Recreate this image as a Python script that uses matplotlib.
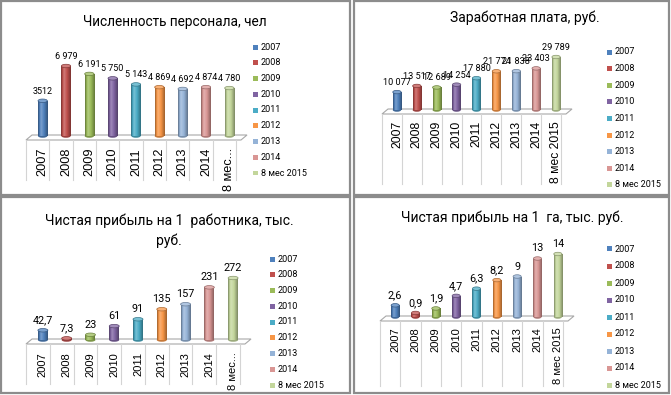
import matplotlib
matplotlib.use("Agg")
import matplotlib.pyplot as plt
import numpy as np
from matplotlib.colors import to_rgb
from matplotlib.patches import Rectangle, Ellipse, Polygon

plt.rcParams['font.family'] = ['Roboto', 'DejaVu Sans']

W, H = 671, 395

years = ['2007', '2008', '2009', '2010', '2011', '2012', '2013', '2014', '8 мес 2015']
colors = ['#4F81BD', '#C0504D', '#9BBB59', '#8064A2', '#4BACC6',
          '#F79646', '#95B3D7', '#D99694', '#C3D69B']

staff = [3512, 6979, 6191, 5750, 5143, 4869, 4692, 4874, 4780]
staff_labels = ['3512', '6 979', '6 191', '5 750', '5 143', '4 869', '4 692', '4 874', '4 780']
short_ticks = ['2007', '2008', '2009', '2010', '2011', '2012', '2013', '2014', '8 мес...']

salary = [10077, 13517, 12689, 14254, 17880, 21774, 21838, 23403, 29789]
salary_labels = ['10 077', '13 517', '12 689', '14 254', '17 880', '21 774', '21 838', '23 403', '29 789']

profit_worker = [42.7, 7.3, 23, 61, 91, 135, 157, 231, 272]
profit_worker_labels = ['42,7', '7,3', '23', '61', '91', '135', '157', '231', '272']

profit_ha = [2.6, 0.9, 1.9, 4.7, 6.3, 8.2, 9, 13, 14]
profit_ha_labels = ['2,6', '0,9', '1,9', '4,7', '6,3', '8,2', '9', '13', '14']

fig = plt.figure(figsize=(W / 100, H / 100), dpi=100)
fig.patch.set_facecolor('white')


def fx(x):
    return x / W


def fy(y):
    return 1 - y / H


def shade(c, f):
    c = np.array(to_rgb(c))
    if f < 0:
        return tuple(c * (1 + f))
    return tuple(c + (1 - c) * f)


def cylinder_strip(c):
    # dark edges, light band left of centre
    t = np.linspace(0, 1, 24)
    f = np.interp(t, [0, 0.3, 0.55, 1], [-0.35, 0.25, 0.05, -0.35])
    return np.array([shade(c, v) for v in f])[None, :, :]


# panel frames
for (x0, y0, x1, y1) in [(1, 1, 350, 195), (354, 1, 669, 195),
                         (1, 197, 350, 393), (354, 197, 669, 393)]:
    fig.patches.append(Rectangle((fx(x0), fy(y1)), fx(x1 - x0), (y1 - y0) / H,
                                 transform=fig.transFigure, fill=False,
                                 edgecolor='#8c8c8c', lw=1.6))


def panel(values, labels, ticks, title, title_xy, left, right, floor, vmax_px,
          bar_w, val_fs, tick_fs, tick_pad, sep_len, leg_xy, leg_dy, title_fs=9):
    top = vmax_px - 20
    ax = fig.add_axes([fx(left), fy(floor), fx(right - left), (floor - top) / H])
    vmax = max(values)
    ymax = vmax * (floor - top) / (floor - vmax_px)
    n = len(values)
    ax.set_xlim(-0.5, n - 0.5)
    ax.set_ylim(0, ymax)
    ax.axis('off')
    ax_h = floor - top
    ax_w = right - left
    px_y = ymax / ax_h
    px_x = n / ax_w

    # floor of the 3d chart
    floor_pts = [(-0.5 - 5 * px_x, -4 * px_y), (n - 0.5, -4 * px_y),
                 (n - 0.5 + 6 * px_x, 1 * px_y), (-0.5 + 1 * px_x, 1 * px_y)]
    ax.add_patch(Polygon(floor_pts, closed=True, facecolor='white',
                         edgecolor='#a8a8a8', lw=0.8, clip_on=False, zorder=1))
    for i in range(n + 1):
        xb = i - 0.5 - 5 * px_x
        ax.plot([xb, xb], [-4 * px_y, -(4 + sep_len) * px_y], color='#d4d4d4',
                lw=0.8, clip_on=False, zorder=1)

    cap = 3.5 * px_y
    bars = ax.bar(range(n), values, width=bar_w, color=colors, linewidth=0, zorder=3)
    for i, (b, v) in enumerate(zip(bars, values)):
        strip = cylinder_strip(colors[i])
        ax.add_patch(Ellipse((i, 0), bar_w, cap, facecolor=shade(colors[i], -0.2),
                             edgecolor='none', zorder=2, clip_on=False))
        im = ax.imshow(strip, extent=(i - bar_w / 2, i + bar_w / 2, 0, v),
                       aspect='auto', zorder=3.5, interpolation='bilinear')
        im.set_clip_path(b)
        ax.add_patch(Ellipse((i, v), bar_w, cap, facecolor=shade(colors[i], 0.25),
                             edgecolor=shade(colors[i], -0.3), lw=0.5, zorder=4,
                             clip_on=False))
        ax.text(i, v + 5 * px_y, labels[i], ha='center', va='bottom',
                fontsize=val_fs, color='black', zorder=5, clip_on=False)
        ax.text(i, -tick_pad * px_y, ticks[i], ha='center', va='top', rotation=90,
                fontsize=tick_fs, family=['Liberation Sans', 'DejaVu Sans'], clip_on=False)
    ax.set_xlim(-0.5, n - 0.5)
    ax.set_ylim(0, ymax)

    fig.text(fx(title_xy[0]), fy(title_xy[1]), title, ha='center', va='center',
             fontsize=title_fs, linespacing=1.5)

    x0, y0 = leg_xy
    for i, lab in enumerate(years):
        yy = y0 + i * leg_dy
        fig.patches.append(Rectangle((fx(x0), fy(yy + 2.5)), fx(5), 5 / H,
                                     transform=fig.transFigure, facecolor=colors[i],
                                     edgecolor='none'))
        fig.text(fx(x0 + 8), fy(yy), lab, ha='left', va='center', fontsize=6.5)
    return ax


panel(staff, staff_labels, short_ticks, 'Численность персонала, чел', (175, 22),
      31, 241, 136, 66, 0.4, 6.5, 9.2, 12, 40, (253, 47), 15.75, title_fs=9.8)
panel(salary, salary_labels, years, 'Заработная плата, руб.', (525, 18),
      387, 566, 110, 57, 0.42, 6.6, 8.7, 11, 70, (607, 52), 16.6, title_fs=10)
panel(profit_worker, profit_worker_labels, short_ticks,
      'Чистая прибыль на 1  работника, тыс.\nруб.', (169, 231),
      31, 245, 340, 278, 0.42, 7.8, 8, 12, 40, (270, 259), 15.75, title_fs=10)
panel(profit_ha, profit_ha_labels, years, 'Чистая прибыль на 1  га, тыс. руб.', (512, 218),
      385, 568, 317, 254, 0.4, 7.8, 8, 10, 65, (607, 249), 17, title_fs=10)

fig.savefig('out.png', dpi=100)
